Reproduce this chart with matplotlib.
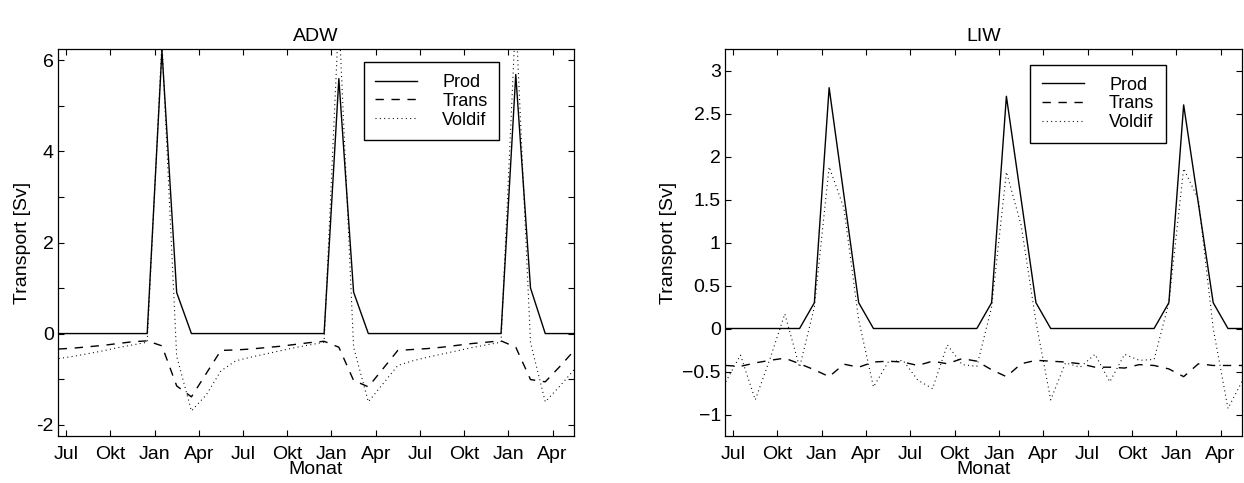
import numpy as np
import matplotlib
matplotlib.use("Agg")
import matplotlib.pyplot as plt

plt.rcParams['font.family'] = ['Liberation Sans', 'DejaVu Sans']

# month labels for ticks (start of month, every 3 months)
tick_labels = ['Jul', 'Okt', 'Jan', 'Apr', 'Jul', 'Okt', 'Jan', 'Apr', 'Jul', 'Okt', 'Jan', 'Apr']

# ADW series (monthly, mid-June .. mid-May, 36 values)
adw_prod = [0, 0, 0, 0, 0, 0, 0, 6.22, 0.9, 0, 0, 0,
            0, 0, 0, 0, 0, 0, 0, 5.6, 0.91, 0, 0, 0,
            0, 0, 0, 0, 0, 0, 0, 5.69, 1.0, 0, 0, 0]
adw_trans = [-0.34, -0.32, -0.29, -0.26, -0.22, -0.18, -0.16, -0.27, -1.15, -1.39, -0.88, -0.37,
             -0.36, -0.34, -0.31, -0.28, -0.24, -0.20, -0.17, -0.30, -1.03, -1.17, -0.77, -0.37,
             -0.35, -0.33, -0.30, -0.26, -0.22, -0.19, -0.16, -0.30, -1.01, -1.06, -0.72, -0.36]
adw_voldif = [-0.55, -0.50, -0.44, -0.38, -0.31, -0.25, -0.19, 6.4, -0.5, -1.7, -1.35, -0.82,
              -0.60, -0.52, -0.45, -0.38, -0.31, -0.25, -0.19, 7.0, -0.3, -1.5, -1.1, -0.70,
              -0.60, -0.52, -0.45, -0.38, -0.31, -0.25, -0.19, 7.0, -0.2, -1.5, -1.15, -0.78]

# LIW series
liw_prod = [0, 0, 0, 0, 0, 0, 0.3, 2.8, 1.55, 0.3, 0, 0,
            0, 0, 0, 0, 0, 0, 0.3, 2.7, 1.5, 0.3, 0, 0,
            0, 0, 0, 0, 0, 0, 0.3, 2.6, 1.45, 0.3, 0, 0]
liw_trans = [-0.43, -0.44, -0.40, -0.37, -0.345, -0.41, -0.48, -0.56, -0.415, -0.45, -0.39, -0.38,
             -0.39, -0.43, -0.38, -0.41, -0.35, -0.38, -0.48, -0.56, -0.41, -0.37, -0.38, -0.39,
             -0.41, -0.45, -0.45, -0.46, -0.42, -0.43, -0.47, -0.56, -0.41, -0.43, -0.43, -0.43]
liw_voldif = [-0.62, -0.31, -0.83, -0.35, 0.17, -0.45, 0.25, 1.88, 1.4, 0.1, -0.68, -0.39,
              -0.37, -0.60, -0.70, -0.19, -0.42, -0.44, 0.25, 1.82, 1.2, 0.08, -0.83, -0.40,
              -0.45, -0.30, -0.62, -0.30, -0.37, -0.36, 0.3, 1.86, 1.5, 0.0, -0.93, -0.60]

x = np.arange(len(adw_prod)) - 0.5
xticks = np.arange(len(tick_labels)) * 3

fig = plt.figure(figsize=(12.44, 4.83), dpi=100)
ax1 = fig.add_axes([58/1244, 47/483, 516/1244, 387/483])
ax2 = fig.add_axes([725/1244, 47/483, 517/1244, 387/483])

FS = 14

def style(ax, title):
    ax.set_xlim(-0.55, 34.45)
    ax.set_xticks(xticks)
    ax.set_xticklabels(tick_labels)
    ax.tick_params(direction='in', top=True, right=True, length=4.5, width=0.8,
                   labelsize=FS, pad=7)
    ax.tick_params(axis='y', pad=3)
    for s in ax.spines.values():
        s.set_linewidth(0.9)
    ax.set_title(title, fontsize=FS, pad=6)
    ax.set_xlabel('Monat', fontsize=FS, labelpad=-1)
    ax.set_ylabel('Transport [Sv]', fontsize=FS, labelpad=4)

def draw(ax, prod, trans, vold, anchor):
    ax.plot(x, prod, color='black', lw=1.0, label='Prod')
    ax.plot(x, trans, color='black', lw=1.0, dashes=(6, 5.5), label='Trans')
    ax.plot(x, vold, color='black', lw=0.8, dashes=(0.9, 3.0), label='Voldif')
    leg = ax.legend(loc='upper right', bbox_to_anchor=anchor, fontsize=13,
                    frameon=True, fancybox=False, framealpha=1, edgecolor='black',
                    handlelength=2.3, handletextpad=1.4, labelspacing=0.1,
                    borderpad=0.65, borderaxespad=0)
    leg.get_frame().set_linewidth(1.0)

draw(ax1, adw_prod, adw_trans, adw_voldif, (0.855, 0.966))
style(ax1, 'ADW')
ax1.set_ylim(-2.25, 6.25)
ax1.set_yticks(np.arange(-2, 7, 1))
ax1.set_yticklabels(['-2', '', '0', '', '2', '', '4', '', '6'])

draw(ax2, liw_prod, liw_trans, liw_voldif, (0.853, 0.959))
style(ax2, 'LIW')
ax2.set_ylim(-1.25, 3.25)
ax2.set_yticks(np.arange(-1, 3.01, 0.5))
ax2.set_yticklabels(['\u22121', '\u22120.5', '0', '0.5', '1', '1.5', '2', '2.5', '3'])

fig.savefig('out.png', dpi=100)
